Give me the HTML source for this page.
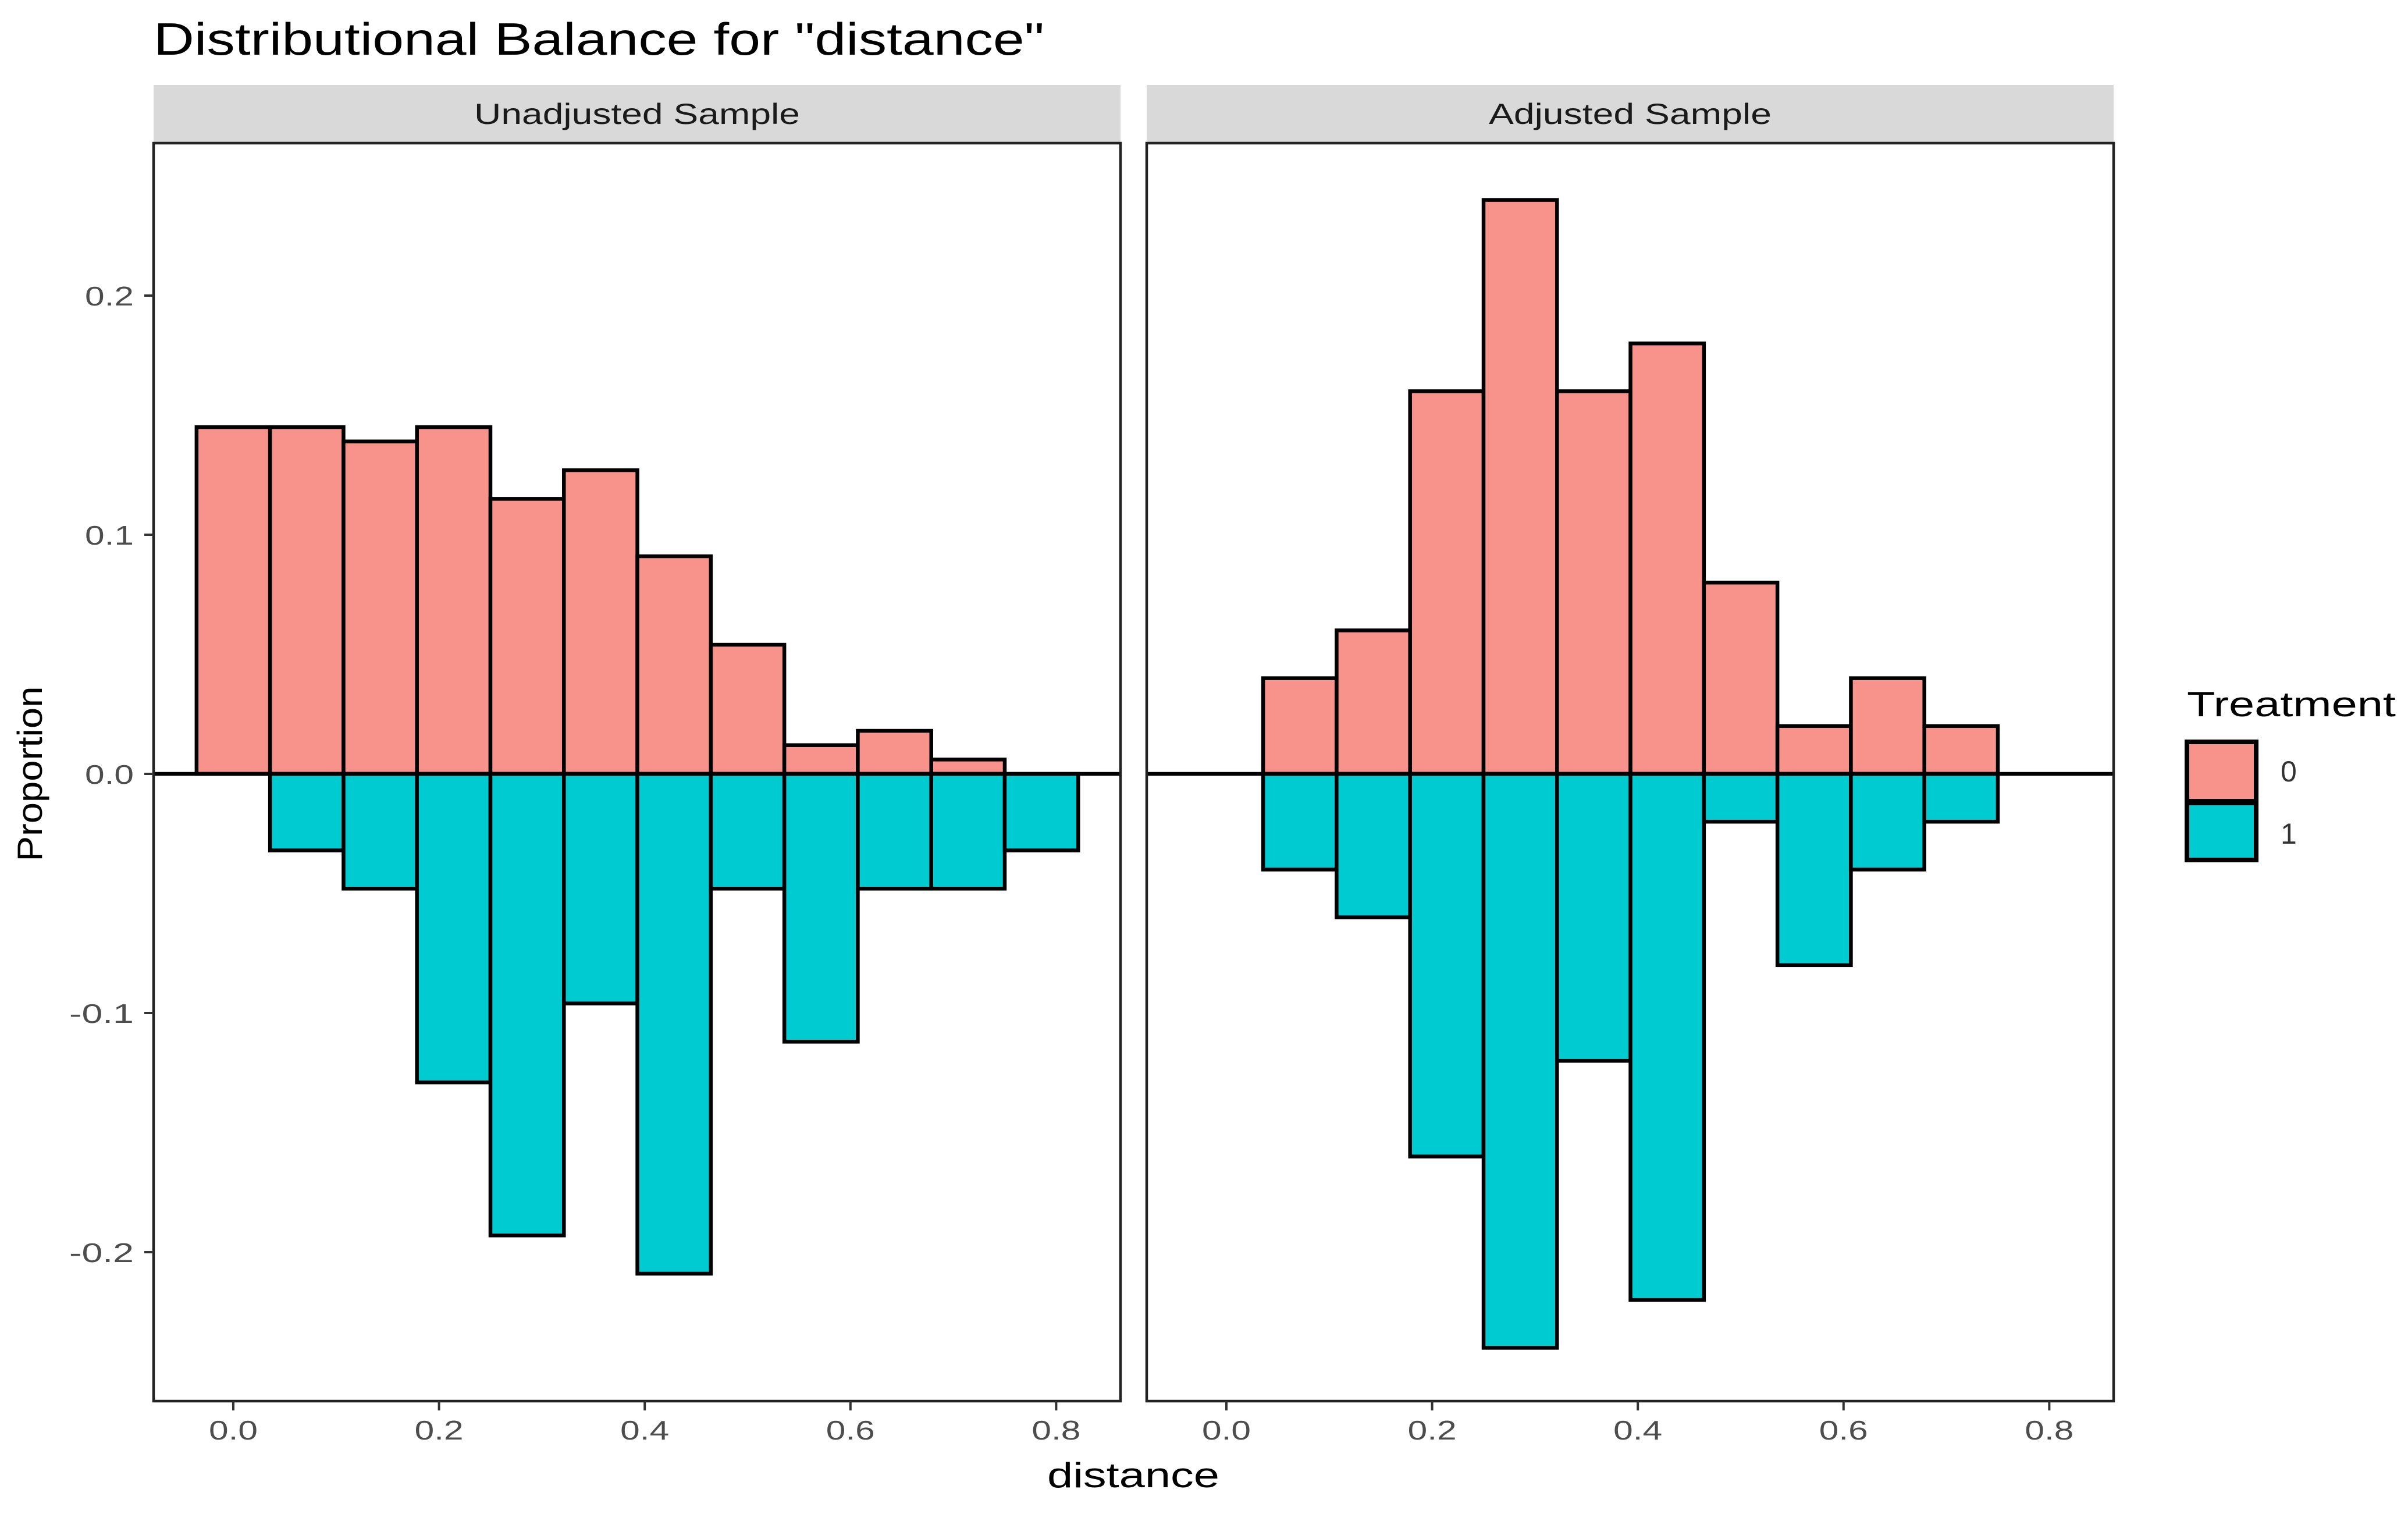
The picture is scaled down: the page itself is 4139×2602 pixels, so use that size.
<!DOCTYPE html>
<html><head><meta charset="utf-8"><style>
html,body{margin:0;padding:0;background:#fff;}
svg{display:block;font-family:"Liberation Sans",Arial,sans-serif;}
</style></head><body>
<svg id="chart" width="4139" height="2602" viewBox="0 0 4139 2602" xmlns="http://www.w3.org/2000/svg">
<text x="264" y="94" font-size="78" textLength="1531" lengthAdjust="spacingAndGlyphs" fill="#000">Distributional Balance for "distance"</text>
<g id="panels"></g>
<text x="1948" y="2556" font-size="60" textLength="296" lengthAdjust="spacingAndGlyphs" text-anchor="middle" fill="#000">distance</text>
<text transform="translate(72,1330) rotate(-90)" font-size="60" textLength="301" lengthAdjust="spacingAndGlyphs" text-anchor="middle" fill="#000">Proportion</text>
<g>
<text x="3759" y="1231" font-size="60" textLength="359" lengthAdjust="spacingAndGlyphs" fill="#000">Treatment</text>
<rect x="3759" y="1275" width="119" height="102" fill="#f8938b" stroke="#000" stroke-width="8"/>
<rect x="3759" y="1380" width="119" height="98" fill="#00cbd0" stroke="#000" stroke-width="8"/>
<text x="3920" y="1343" font-size="50" fill="#333">0</text>
<text x="3920" y="1450" font-size="50" fill="#333">1</text>
</g>
</svg>
<script>
const panelNames = ["Unadjusted Sample", "Adjusted Sample"];
const binCenters = [0,1/14,2/14,3/14,4/14,5/14,6/14,7/14,8/14,9/14,10/14,11/14];
const unadjTreat0 = [0.145,0.145,0.139,0.145,0.115,0.127,0.091,0.054,0.012,0.018,0.006,0];
const unadjTreat1 = [0,0.032,0.048,0.129,0.193,0.096,0.209,0.048,0.112,0.048,0.048,0.032];
const adjTreat0 = [0,0.04,0.06,0.16,0.24,0.16,0.18,0.08,0.02,0.04,0.02,0];
const adjTreat1 = [0,0.04,0.06,0.16,0.24,0.12,0.22,0.02,0.08,0.04,0.02,0];
const yTicks = [0.2,0.1,0.0,-0.1,-0.2];
const yTickLabels = ["0.2","0.1","0.0","-0.1","-0.2"];
const xTicks = [0,0.2,0.4,0.6,0.8];
const xTickLabels = ["0.0","0.2","0.4","0.6","0.8"];

const NS = "http://www.w3.org/2000/svg";
const g = document.getElementById("panels");
const panelLefts = [264, 1971];
const panelW = 1662, panelTop = 246, panelBottom = 2408, stripTop = 146;
const stripTextLen = [560, 486];
const binW = 1/14;
function yScale(v){ return 1330 - v * 4110; }
function xScale(p, v){ return panelLefts[p] + 137 + v * 1768; }
function mk(tag, attrs){ const e = document.createElementNS(NS, tag); for (const k in attrs) e.setAttribute(k, attrs[k]); return e; }

const series = [[unadjTreat0, unadjTreat1],[adjTreat0, adjTreat1]];
for (let p = 0; p < 2; p++) {
  const L = panelLefts[p];
  const strip = mk("rect",{x:L,y:stripTop,width:panelW,height:panelTop-stripTop,fill:"#d9d9d9"});
  
  
  g.appendChild(strip);
  const st = mk("text",{x:L+panelW/2,y:213,"font-size":"50","text-anchor":"middle",fill:"#1a1a1a",textLength:stripTextLen[p],lengthAdjust:"spacingAndGlyphs"});
  st.textContent = panelNames[p];
  
  
  g.appendChild(st);
  const bg = mk("rect",{x:L,y:panelTop,width:panelW,height:panelBottom-panelTop,fill:"#fff"});
  
  
  g.appendChild(bg);
  for (let i = 0; i < binCenters.length; i++) {
    const x0 = xScale(p, binCenters[i]-binW/2), x1 = xScale(p, binCenters[i]+binW/2);
    const v0 = series[p][0][i], v1 = series[p][1][i];
    if (v0 > 0) {
      const r = mk("rect",{x:x0,y:yScale(v0),width:x1-x0,height:yScale(0)-yScale(v0),fill:"#f8938b",stroke:"#000","stroke-width":"6.5"});
      
      
      g.appendChild(r);
    }
    if (v1 > 0) {
      const r = mk("rect",{x:x0,y:yScale(0),width:x1-x0,height:yScale(-v1)-yScale(0),fill:"#00cbd0",stroke:"#000","stroke-width":"6.5"});
      
      
      g.appendChild(r);
    }
  }
  const zl = mk("line",{x1:L,x2:L+panelW,y1:yScale(0),y2:yScale(0),stroke:"#000","stroke-width":"6.5"});
  
  
  g.appendChild(zl);
  const border = mk("rect",{x:L,y:panelTop,width:panelW,height:panelBottom-panelTop,fill:"none",stroke:"#222","stroke-width":"4.5"});
  
  
  g.appendChild(border);
  for (let t = 0; t < xTicks.length; t++) {
    const x = xScale(p, xTicks[t]);
    const tk = mk("line",{x1:x,x2:x,y1:panelBottom,y2:panelBottom+16,stroke:"#333","stroke-width":"4"});
    
    
    g.appendChild(tk);
    const tl = mk("text",{x:x,y:2474,"font-size":"46","text-anchor":"middle",fill:"#4d4d4d",textLength:84,lengthAdjust:"spacingAndGlyphs"});
    tl.textContent = xTickLabels[t];
    
    
    g.appendChild(tl);
  }
}
for (let t = 0; t < yTicks.length; t++) {
  const y = yScale(yTicks[t]);
  const tk = mk("line",{x1:248,x2:264,y1:y,y2:y,stroke:"#333","stroke-width":"4"});
  
  
  g.appendChild(tk);
  const len = yTickLabels[t].length > 3 ? 111 : 84;
  const tl = mk("text",{x:230,y:y+17,"font-size":"46","text-anchor":"end",fill:"#4d4d4d",textLength:len,lengthAdjust:"spacingAndGlyphs"});
  tl.textContent = yTickLabels[t];
  
  
  g.appendChild(tl);
}
</script>
</body></html>
